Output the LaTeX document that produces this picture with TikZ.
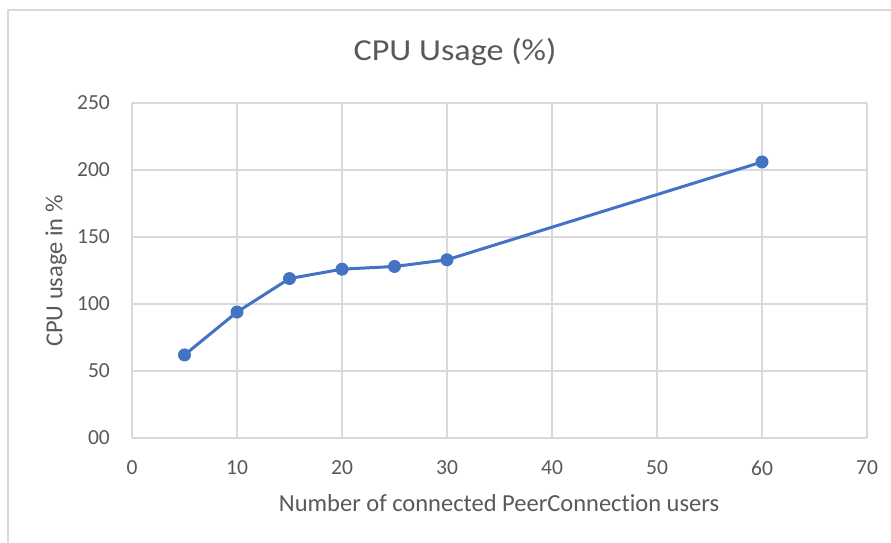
\documentclass[tikz,border=0pt]{standalone}
\usepackage{fontspec}
\setmainfont{Carlito}[Ligatures=NoCommon]
\newfontfamily\titlefont{Carlito}[FakeStretch=1.12,Ligatures=NoCommon]
\definecolor{gridgray}{RGB}{217,217,217}
\definecolor{textgray}{RGB}{89,89,89}
\definecolor{serieblue}{RGB}{68,114,196}
\begin{document}
\begin{tikzpicture}[x=1pt,y=-1pt,
  gridline/.style={draw=gridgray,line width=1.5pt},
  ticklabel/.style={text=textgray,font=\fontsize{21.5}{21.5}\selectfont,inner sep=0pt},
  axistitle/.style={text=textgray,font=\fontsize{24.5}{24.5}\selectfont,inner sep=0pt},
  series/.style={draw=serieblue,line width=3pt,line join=round},
  marker/.style={circle,fill=serieblue,inner sep=0pt,minimum size=13pt}]
\useasboundingbox (0,0) rectangle (891,542);
\fill[white] (0,0) rectangle (891,542);
% chart frame
\draw[gridgray,line width=1.5pt] (8,560) -- (8,10) -- (900,10);
% plot mapping: x -> 132 + 10.5*x, y -> 438 - 1.34*y
\foreach \i in {0,10,...,70}{
  \draw[gridline] ({132+10.5*\i},103) -- ({132+10.5*\i},438);
  \node[ticklabel] (xt\i) at ({132+10.5*\i},468) {\i};
}
\foreach \j/\lab in {0/00,50/50,100/100,150/150,200/200,250/250}{
  \draw[gridline] (132,{438-1.34*\j}) -- (867,{438-1.34*\j});
  \node[ticklabel,anchor=east] (yt\j) at (110,{438-1.34*\j}) {\lab};
}
% title and axis titles
\node[text=textgray,font=\titlefont\fontsize{30.5}{30.5}\selectfont,inner sep=0pt] (title) at (455,52) {CPU Usage (\%)};
\node[axistitle] (xtitle) at (499,503) {Number of connected PeerConnection users};
\node[axistitle,rotate=90] (ytitle) at (56,271) {CPU usage in \%};
% data series
\foreach \n/\xv/\yv in {a/5/62,b/10/94,c/15/119,d/20/126,e/25/128,f/30/133,g/60/206}{
  \coordinate (\n) at ({132+10.5*\xv},{438-1.34*\yv});
}
\draw[series] (a) -- (b) -- (c) -- (d) -- (e) -- (f) -- (g);
\foreach \n in {a,b,c,d,e,f,g}{
  \node[marker] (m\n) at (\n) {};
}
\end{tikzpicture}
\end{document}
